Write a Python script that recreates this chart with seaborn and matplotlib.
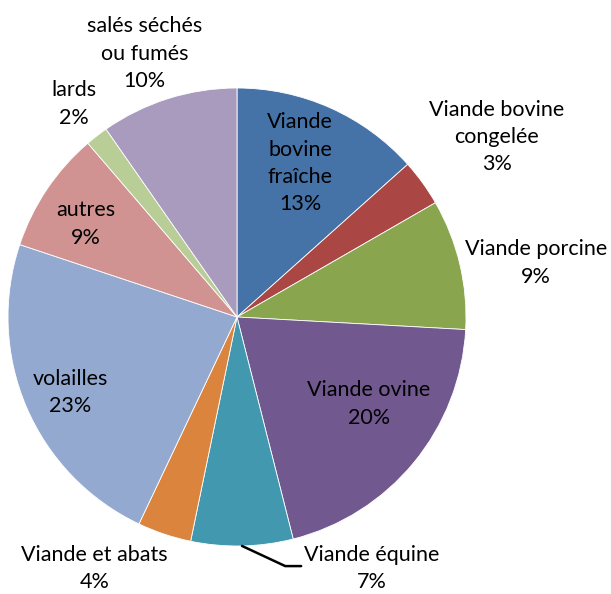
import seaborn as sns
import matplotlib.pyplot as plt
import numpy as np

# Data (shares in %, clockwise from 12 o'clock)
categories = ['Viande\nbovine\nfraîche', 'Viande bovine\ncongelée', 'Viande porcine',
              'Viande ovine', 'Viande équine', 'Viande et abats', 'volailles',
              'autres', 'lards', 'salés séchés\nou fumés']
shares = [13.4, 3.3, 9.2, 20.2, 7.2, 3.8, 23.1, 8.6, 1.6, 9.7]
pct_labels = ['13%', '3%', '9%', '20%', '7%', '4%', '23%', '9%', '2%', '10%']

colors = ['#4572A7', '#AA4643', '#89A54E', '#71588F', '#4198AF',
          '#DB843D', '#93A9CF', '#D19392', '#B9CD96', '#A99BBD']

# label anchor points, in pie-radius units
label_pos = [(0.275, 0.672), (1.135, 0.786), (1.306, 0.236), (0.576, -0.38),
             (0.59, -1.098), (-0.621, -1.098), (-0.728, -0.33), (-0.66, 0.406),
             (-0.712, 0.93), (-0.404, 1.15)]

sns.set_theme(style='white')
plt.rcParams['font.family'] = ['Lato', 'DejaVu Sans']

fig = plt.figure(figsize=(6.11, 5.94), dpi=100)
fig.patch.set_facecolor('white')
ax = fig.add_axes([8 / 611, 48 / 594, 458 / 611, 458 / 594])

wedges, _ = ax.pie(shares, colors=sns.color_palette(colors), startangle=90,
                   counterclock=False, radius=1,
                   wedgeprops=dict(edgecolor='white', linewidth=0.6))
ax.set_xlim(-1, 1)
ax.set_ylim(-1, 1)
ax.set_aspect('equal')
ax.axis('off')

for i, (name, pct) in enumerate(zip(categories, pct_labels)):
    x, y = label_pos[i]
    txt = name + '\n' + pct
    if name == 'Viande équine':
        # leader line from the wedge edge to the label
        w = wedges[i]
        mid = np.deg2rad((w.theta1 + w.theta2) / 2)
        ax.annotate(txt, xy=(np.cos(mid), np.sin(mid)), xytext=(x, y),
                    ha='center', va='center', fontsize=15.5, color='black',
                    linespacing=1.45, annotation_clip=False,
                    arrowprops=dict(arrowstyle='-', color='black', lw=1.8,
                                    shrinkA=0, shrinkB=0, relpos=(0, 0.55),
                                    connectionstyle='angle,angleA=180,angleB=155,rad=0'))
    else:
        ax.text(x, y, txt, ha='center', va='center', fontsize=15.5,
                color='black', linespacing=1.45)

fig.savefig('out.png', dpi=100)
